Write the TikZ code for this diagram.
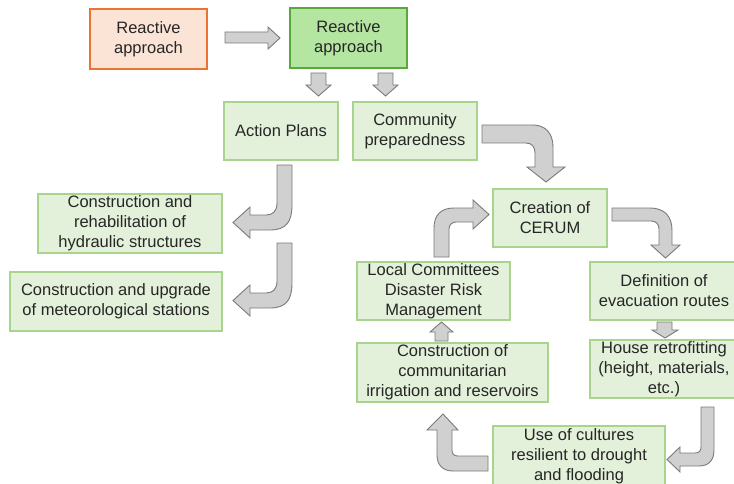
\documentclass[tikz,border=0pt]{standalone}
\usepackage{fontspec}
\setmainfont{Liberation Sans}
\definecolor{boxfill}{HTML}{E3F0DA}
\definecolor{boxline}{HTML}{A9D48E}
\definecolor{topfill}{HTML}{B4E6A2}
\definecolor{topline}{HTML}{58A83A}
\definecolor{orfill}{HTML}{FBE3D6}
\definecolor{orline}{HTML}{EB7432}
\definecolor{arrfill}{HTML}{D0D0D0}
\definecolor{arrline}{HTML}{7A7A7A}
\definecolor{txt}{HTML}{262626}
\begin{document}
\begin{tikzpicture}[x=1pt,y=-1pt,
  box/.style={draw=boxline, fill=boxfill, line width=1.4pt, align=center, inner sep=0pt,
    text=txt, font=\fontsize{16.5}{20}\selectfont},
  topbox/.style={box, draw=topline, fill=topfill},
  orbox/.style={box, draw=orline, fill=orfill, line width=1.8pt},
  blk/.style={draw=arrline, fill=arrfill, line width=0.9pt, line join=miter}]
\clip (0,0) rectangle (734,484);
\fill[white] (0,0) rectangle (734,484);
% boxes
\node[orbox, minimum width=117pt, minimum height=60pt] (r1) at (148.5,39) {Reactive\\approach};
\node[topbox, minimum width=117pt, minimum height=60pt] (r2) at (348.5,38) {Reactive\\approach};
\node[box, minimum width=114pt, minimum height=58pt] (ap) at (281,131) {Action Plans};
\node[box, minimum width=124pt, minimum height=58pt] (cp) at (415,131) {Community\\preparedness};
\node[box, minimum width=184pt, minimum height=59pt] (cr) at (130,223.5) {Construction and\\rehabilitation of\\hydraulic structures};
\node[box, minimum width=212pt, minimum height=59pt] (cu) at (116,301.5) {Construction and upgrade\\of meteorological stations};
\node[box, minimum width=114pt, minimum height=58pt] (ce) at (550,218) {Creation of\\CERUM};
\node[box, minimum width=153pt, minimum height=58pt] (lc) at (433.5,291) {Local Committees\\Disaster Risk\\Management};
\node[box, minimum width=148pt, minimum height=58pt] (de) at (664,291) {Definition of\\evacuation routes};
\node[box, minimum width=148pt, minimum height=58pt] (ho) at (664,369) {House retrofitting\\(height, materials,\\etc.)};
\node[box, minimum width=191pt, minimum height=59pt] (cc) at (452.5,372.5) {Construction of\\communitarian\\irrigation and reservoirs};
\node[box, minimum width=172pt, minimum height=60pt] (uc) at (579,456) {Use of cultures\\resilient to drought\\and flooding};
% straight block arrows
\draw[blk] (225,32) -- (268,32) -- (268,27) -- (280,38) -- (268,49) -- (268,43) -- (225,43) -- cycle;
\draw[blk] (311,73) -- (326,73) -- (326,85) -- (331,85) -- (318.5,96) -- (306,85) -- (311,85) -- cycle;
\draw[blk] (378,73) -- (393,73) -- (393,85) -- (398,85) -- (385.5,96) -- (373,85) -- (378,85) -- cycle;
\draw[blk] (657,322) -- (672,322) -- (672,330) -- (678,330) -- (665,338) -- (652,330) -- (657,330) -- cycle;
\draw[blk] (435,341) -- (448,341) -- (448,332) -- (453,332) -- (441.5,322) -- (430,332) -- (435,332) -- cycle;
% bent block arrows
\draw[blk] (277,165) -- (292,165) -- (292,205) .. controls (292,222) and (286,230) .. (270,230)
  -- (250,230) -- (250,238) -- (233,222.5) -- (250,207) -- (250,215) -- (266,215)
  .. controls (273,215) and (277,211) .. (277,203) -- cycle;
\draw[blk] (277,243) -- (292,243) -- (292,283) .. controls (292,300) and (286,308) .. (270,308)
  -- (250,308) -- (250,316) -- (233,300.5) -- (250,285) -- (250,293) -- (266,293)
  .. controls (273,293) and (277,289) .. (277,281) -- cycle;
\draw[blk] (482,125) -- (533,125) .. controls (545,125) and (553,133) .. (553,147) -- (553,167)
  -- (565,167) -- (546,182) -- (527,167) -- (535,167) -- (535,153)
  .. controls (535,147) and (532,143) .. (526,143) -- (482,143) -- cycle;
\draw[blk] (612,208) -- (650,208) .. controls (664,208) and (672,216) .. (672,230) -- (672,245)
  -- (680,245) -- (665.5,258) -- (651,245) -- (659,245) -- (659,229)
  .. controls (659,224) and (656,221) .. (651,221) -- (612,221) -- cycle;
\draw[blk] (434,257) -- (434,228) .. controls (434,215) and (441,208) .. (454,208) -- (473,208)
  -- (473,200) -- (489,214.5) -- (473,229) -- (473,222) -- (456,222)
  .. controls (452,222) and (449,225) .. (449,229) -- (449,257) -- cycle;
\draw[blk] (488,456) -- (458,456) .. controls (454,456) and (452,454) .. (452,450) -- (452,430)
  -- (458,430) -- (443,414) -- (427,430) -- (437,430) -- (437,455)
  .. controls (437,465) and (443,471) .. (453,471) -- (488,471) -- cycle;
\draw[blk] (701,407) -- (714,407) -- (714,450) .. controls (714,460) and (709,466) .. (699,466)
  -- (680,466) -- (680,472) -- (667,459.5) -- (680,447) -- (680,453) -- (695,453)
  .. controls (699,453) and (701,451) .. (701,447) -- cycle;
\end{tikzpicture}
\end{document}
